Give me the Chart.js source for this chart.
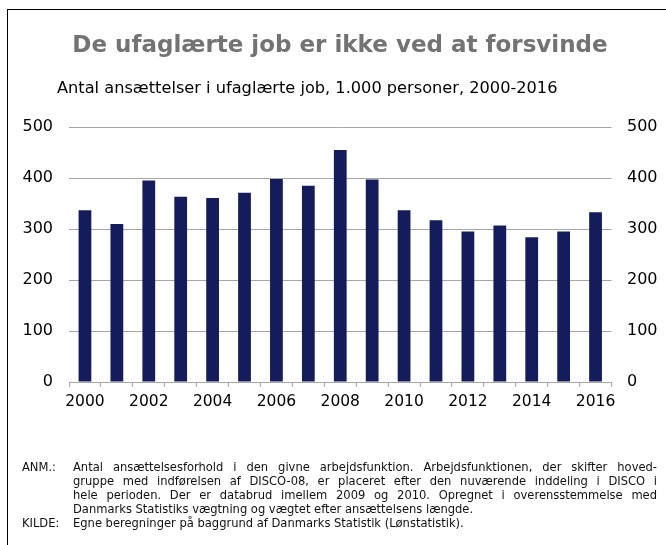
<!DOCTYPE html>
<html>
<head>
<meta charset="utf-8">
<script src="https://cdn.jsdelivr.net/npm/chart.js@4"></script>
<style>
  html, body { margin: 0; padding: 0; background: #fff; }
  body { width: 666px; height: 545px; position: relative; overflow: hidden; font-family: "DejaVu Sans", Verdana, sans-serif; }
  #frame { position: absolute; left: 7px; top: 9px; width: 700px; height: 600px; border-top: 1px solid #000; border-left: 1px solid #000; }
  #wrap { position: absolute; left: 0; top: 0; width: 666px; height: 545px; }
  #title { position: absolute; left: 0; width: 680px; top: 31px; text-align: center; font-weight: bold; font-size: 23px; color: #737373; white-space: nowrap; }
  #subtitle { position: absolute; left: 57px; top: 78px; font-size: 16.2px; color: #000; white-space: nowrap; }
  .note { position: absolute; font-family: "DejaVu Sans Condensed", "DejaVu Sans", sans-serif; font-size: 12.8px; color: #111; white-space: nowrap; line-height: 14px; }
  .lbl { left: 22px; }
  .txt { left: 73px; width: 584px; }
  .just { text-align: justify; text-align-last: justify; white-space: normal; }
</style>
</head>
<body>
<div id="frame"></div>
<div id="wrap"><canvas id="c" width="666" height="545"></canvas></div>
<div id="title">De ufaglærte job er ikke ved at forsvinde</div>
<div id="subtitle">Antal ansættelser i ufaglærte job, 1.000 personer, 2000-2016</div>
<div class="note lbl" style="top:460px">ANM.:</div>
<div class="note txt just" style="top:460px">Antal ansættelsesforhold i den givne arbejdsfunktion. Arbejdsfunktionen, der skifter hoved-</div>
<div class="note txt just" style="top:474px">gruppe med indførelsen af DISCO-08, er placeret efter den nuværende inddeling i DISCO i</div>
<div class="note txt just" style="top:488px">hele perioden. Der er databrud imellem 2009 og 2010. Opregnet i overensstemmelse med</div>
<div class="note txt" style="top:502px">Danmarks Statistiks vægtning og vægtet efter ansættelsens længde.</div>
<div class="note lbl" style="top:516px">KILDE:</div>
<div class="note txt" style="top:516px">Egne beregninger på baggrund af Danmarks Statistik (Lønstatistik).</div>
<script>
const years = ["2000","2001","2002","2003","2004","2005","2006","2007","2008","2009","2010","2011","2012","2013","2014","2015","2016"];
const employments = [337, 310, 395, 363, 361, 371, 398, 385, 455, 397, 337, 317, 295, 307, 284, 295, 333];
const yTicks = [0, 100, 200, 300, 400, 500];

const PLOT_LEFT = 69, PLOT_RIGHT = 611.5, PLOT_TOP = 127, PLOT_BOTTOM = 382;

new Chart(document.getElementById('c'), {
  type: 'bar',
  data: {
    labels: years,
    datasets: [{
      data: employments,
      backgroundColor: '#151c5b',
      borderWidth: 0,
      categoryPercentage: 0.8,
      barPercentage: 0.5
    }]
  },
  options: {
    responsive: false,
    animation: false,
    devicePixelRatio: 1,
    layout: { padding: { left: 0, right: 0, top: PLOT_TOP, bottom: 545 - PLOT_BOTTOM - 40 } },
    plugins: { legend: { display: false }, tooltip: { enabled: false }, title: { display: false } },
    scales: {
      x: {
        offset: true,
        grid: { offset: true, drawOnChartArea: false, drawTicks: true, tickLength: 5, color: '#a6a6a6', lineWidth: 1 },
        border: { display: true, color: '#a6a6a6', width: 1 },
        ticks: {
          autoSkip: false, maxRotation: 0, padding: 6,
          color: '#000', font: { family: 'DejaVu Sans', size: 15.5 },
          callback: function(v, i) { return i % 2 === 0 ? years[i] : ''; }
        },
        afterFit: s => { s.height = 40; }
      },
      y: {
        position: 'left', min: 0, max: 500,
        afterBuildTicks: s => { s.ticks = yTicks.map(v => ({ value: v })); },
        grid: { drawTicks: false, color: '#a6a6a6', lineWidth: 1 },
        border: { display: false },
        ticks: { padding: 16, color: '#000', font: { family: 'DejaVu Sans', size: 16 } },
        afterFit: s => { s.width = PLOT_LEFT; }
      },
      y2: {
        position: 'right', min: 0, max: 500,
        afterBuildTicks: s => { s.ticks = yTicks.map(v => ({ value: v })); },
        grid: { drawOnChartArea: false, drawTicks: false },
        border: { display: false },
        ticks: { padding: 15.5, color: '#000', font: { family: 'DejaVu Sans', size: 16 } },
        afterFit: s => { s.width = 666 - PLOT_RIGHT; }
      }
    }
  }
});
</script>
</body>
</html>
